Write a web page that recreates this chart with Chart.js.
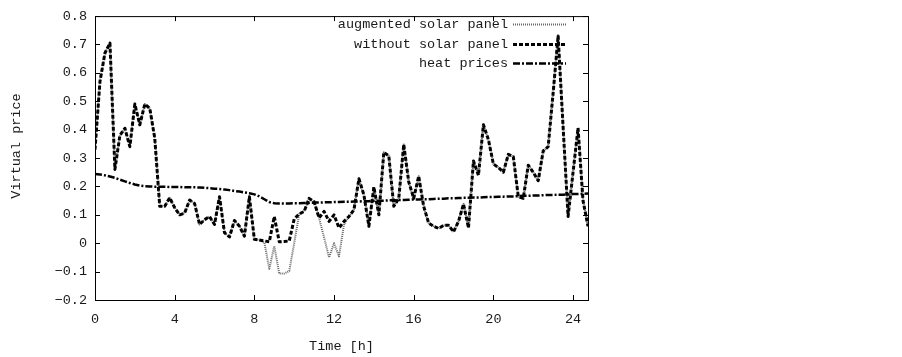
<!DOCTYPE html>
<html>
<head>
<meta charset="utf-8">
<script src="https://cdn.jsdelivr.net/npm/chart.js@4.4.0/dist/chart.umd.min.js"></script>
<style>
  html, body { margin: 0; padding: 0; background: #fff; }
</style>
</head>
<body>
<canvas id="c" width="902" height="357"></canvas>
<script>
// time axis, 15 min steps
const hours = [
  0, 0.25, 0.5, 0.75, 1, 1.25, 1.5, 1.75, 2, 2.25, 2.5, 2.75, 3, 3.25, 3.5, 3.75,
  4, 4.25, 4.5, 4.75, 5, 5.25, 5.5, 5.75, 6, 6.25, 6.5, 6.75, 7, 7.25, 7.5, 7.75,
  8, 8.25, 8.5, 8.75, 9, 9.25, 9.5, 9.75, 10, 10.25, 10.5, 10.75, 11, 11.25, 11.5, 11.75,
  12, 12.25, 12.5, 12.75, 13, 13.25, 13.5, 13.75, 14, 14.25, 14.5, 14.75, 15, 15.25, 15.5, 15.75,
  16, 16.25, 16.5, 16.75, 17, 17.25, 17.5, 17.75, 18, 18.25, 18.5, 18.75, 19, 19.25, 19.5, 19.75,
  20, 20.25, 20.5, 20.75, 21, 21.25, 21.5, 21.75, 22, 22.25, 22.5, 22.75, 23, 23.25, 23.5, 23.75,
  24, 24.25, 24.5, 24.75
];

const withoutSolar = [
  0.33, 0.57, 0.67, 0.705, 0.26, 0.38, 0.405, 0.34, 0.49, 0.417, 0.49, 0.475, 0.37, 0.13, 0.13, 0.16,
  0.125, 0.10, 0.106, 0.152, 0.14, 0.066, 0.083, 0.094, 0.066, 0.164, 0.037, 0.022, 0.08, 0.06, 0.025, 0.164,
  0.014, 0.011, 0.008, 0.005, 0.094, 0.005, 0.006, 0.008, 0.085, 0.103, 0.112, 0.158, 0.146, 0.089, 0.112, 0.077,
  0.10, 0.054, 0.077, 0.094, 0.118, 0.227, 0.17, 0.06, 0.198, 0.10, 0.32, 0.308, 0.13, 0.158, 0.348, 0.216,
  0.158, 0.236, 0.13, 0.071, 0.06, 0.052, 0.063, 0.063, 0.04, 0.077, 0.138, 0.054, 0.29, 0.239, 0.417, 0.365,
  0.279, 0.267, 0.25, 0.313, 0.305, 0.164, 0.158, 0.275, 0.25, 0.22, 0.325, 0.34, 0.53, 0.73, 0.41, 0.094,
  0.25, 0.406, 0.15, 0.06
];

const augmentedSolar = [
  0.33, 0.57, 0.67, 0.705, 0.26, 0.38, 0.405, 0.34, 0.49, 0.417, 0.49, 0.475, 0.37, 0.13, 0.13, 0.16,
  0.125, 0.10, 0.106, 0.152, 0.14, 0.066, 0.083, 0.094, 0.066, 0.164, 0.037, 0.022, 0.08, 0.06, 0.025, 0.164,
  0.014, 0.011, 0.003, -0.09, -0.01, -0.107, -0.107, -0.098, 0.0, 0.103, 0.112, 0.158, 0.146, 0.089, 0.02, -0.05,
  0.0, -0.046, 0.065, 0.094, 0.118, 0.227, 0.17, 0.06, 0.198, 0.10, 0.32, 0.308, 0.13, 0.158, 0.348, 0.216,
  0.158, 0.236, 0.13, 0.071, 0.06, 0.052, 0.063, 0.063, 0.04, 0.077, 0.138, 0.054, 0.29, 0.239, 0.417, 0.365,
  0.279, 0.267, 0.25, 0.313, 0.305, 0.164, 0.158, 0.275, 0.25, 0.22, 0.325, 0.34, 0.53, 0.73, 0.41, 0.094,
  0.25, 0.406, 0.15, 0.06
];

const heatPrices = [
  0.244, 0.242, 0.239, 0.235, 0.230, 0.224, 0.218, 0.212, 0.207, 0.203, 0.201, 0.200, 0.199, 0.199, 0.199, 0.198,
  0.198, 0.198, 0.197, 0.197, 0.197, 0.196, 0.195, 0.194, 0.192, 0.191, 0.189, 0.187, 0.184, 0.182, 0.179, 0.176,
  0.172, 0.165, 0.155, 0.145, 0.141, 0.140, 0.140, 0.140, 0.141, 0.141, 0.142, 0.142, 0.143, 0.143, 0.144, 0.144,
  0.145, 0.145, 0.146, 0.146, 0.147, 0.147, 0.148, 0.148, 0.149, 0.150, 0.150, 0.151, 0.151, 0.152, 0.152, 0.153,
  0.154, 0.154, 0.155, 0.155, 0.156, 0.157, 0.157, 0.158, 0.158, 0.159, 0.160, 0.160, 0.161, 0.161, 0.162, 0.163,
  0.163, 0.164, 0.164, 0.165, 0.165, 0.166, 0.167, 0.167, 0.168, 0.168, 0.169, 0.170, 0.170, 0.171, 0.171, 0.172,
  0.173, 0.173, 0.174, 0.175
];

const xTicks = [0, 4, 8, 12, 16, 20, 24];
const yTicks = [-0.2, -0.1, 0, 0.1, 0.2, 0.3, 0.4, 0.5, 0.6, 0.7, 0.8];

const FONT = { family: "'Liberation Mono', 'DejaVu Sans Mono', monospace", size: 13.5 };
const INK = "#1a1a1a";
const TICK = 5;

function fmtY(v) {
  if (Math.abs(v) < 1e-9) return "0";
  return (v < 0 ? "\u2212" : "") + Math.abs(v).toFixed(1);
}

function pairs(ys) { return hours.map((h, i) => ({ x: h, y: ys[i] })); }

// gnuplot-ish frame: box, inward ticks on all four sides, key at top right
const frameAndKey = {
  id: "frameAndKey",
  afterDraw(chart) {
    const { ctx, chartArea: a, scales: { x, y } } = chart;
    ctx.save();
    ctx.strokeStyle = "#000";
    ctx.lineWidth = 1;
    ctx.strokeRect(a.left + 0.5, a.top + 0.5, a.right - a.left, a.bottom - a.top);

    ctx.beginPath();
    x.ticks.forEach(t => {
      const px = Math.round(x.getPixelForValue(t.value)) + 0.5;
      ctx.moveTo(px, a.bottom); ctx.lineTo(px, a.bottom - TICK);
      ctx.moveTo(px, a.top); ctx.lineTo(px, a.top + TICK);
    });
    y.ticks.forEach(t => {
      const py = Math.round(y.getPixelForValue(t.value)) + 0.5;
      ctx.moveTo(a.left, py); ctx.lineTo(a.left + TICK, py);
      ctx.moveTo(a.right, py); ctx.lineTo(a.right - TICK, py);
    });
    ctx.stroke();

    // y title
    ctx.fillStyle = INK;
    ctx.font = `${FONT.size}px ${FONT.family}`;
    ctx.textAlign = "center";
    ctx.textBaseline = "middle";
    ctx.save();
    ctx.translate(16, 146);
    ctx.rotate(-Math.PI / 2);
    ctx.fillText("Virtual price", 0, 0);
    ctx.restore();

    // key
    const rows = [24, 44, 63];
    chart.data.datasets.forEach((ds, i) => {
      const ky = rows[i];
      ctx.textAlign = "right";
      ctx.fillText(ds.label, 508, ky);
      ctx.save();
      ctx.strokeStyle = ds.borderColor;
      ctx.lineWidth = ds.borderWidth;
      ctx.setLineDash(ds.borderDash || []);
      ctx.beginPath();
      ctx.moveTo(513, ky + 0.5);
      ctx.lineTo(566, ky + 0.5);
      ctx.stroke();
      ctx.restore();
    });
    ctx.restore();
  }
};

new Chart(document.getElementById("c"), {
  type: "line",
  data: {
    datasets: [
      { label: "augmented solar panel", data: pairs(augmentedSolar), borderColor: "#666", borderWidth: 2,
        borderDash: [1, 1], borderJoinStyle: "round", pointRadius: 0, tension: 0, order: 3 },
      { label: "without solar panel", data: pairs(withoutSolar), borderColor: "#000", borderWidth: 3,
        borderDash: [4, 2], borderJoinStyle: "round", pointRadius: 0, tension: 0, order: 2 },
      { label: "heat prices", data: pairs(heatPrices), borderColor: "#000", borderWidth: 2.5,
        borderDash: [7, 2, 2, 2], borderJoinStyle: "round", pointRadius: 0, tension: 0, order: 1 },
    ],
  },
  options: {
    responsive: false,
    devicePixelRatio: 1,
    animation: false,
    layout: { padding: { top: 11, right: 314, left: 0, bottom: 0 } },
    plugins: { legend: { display: false }, tooltip: { enabled: false } },
    scales: {
      x: {
        type: "linear", min: 0, max: 24.75,
        afterBuildTicks: s => { s.ticks = xTicks.map(v => ({ value: v })); },
        afterFit: s => { s.height = 57; },
        grid: { display: false, drawTicks: false }, border: { display: false },
        ticks: { padding: 11, color: INK, font: FONT, maxRotation: 0 },
        title: { display: true, text: "Time [h]", color: INK, font: FONT, padding: { top: 0, bottom: 2 } },
      },
      y: {
        type: "linear", min: -0.2, max: 0.8,
        afterBuildTicks: s => { s.ticks = yTicks.map(v => ({ value: v })); },
        afterFit: s => { s.width = 95; },
        grid: { display: false, drawTicks: false }, border: { display: false },
        ticks: { padding: 8, color: INK, font: FONT, callback: v => fmtY(v) },
      },
    },
  },
  plugins: [frameAndKey],
});
</script>
</body>
</html>
